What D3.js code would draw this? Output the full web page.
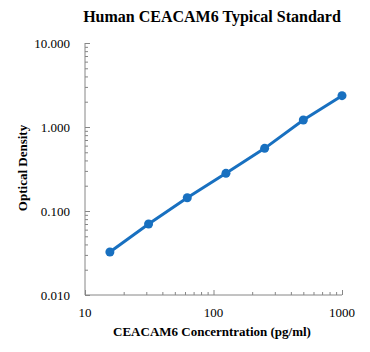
<!DOCTYPE html>
<html><head><meta charset="utf-8">
<script src="https://cdn.jsdelivr.net/npm/d3@7"></script>
<style>body{margin:0;background:#fff}svg{display:block}</style>
</head><body>
<script>
const concentrations = [15.625, 31.25, 62.5, 125, 250, 500, 1000];
const odValues = [0.0325, 0.070, 0.144, 0.281, 0.557, 1.21, 2.36];
const xTickValues = [10, 100, 1000];
const xTickLabels = ["10", "100", "1000"];
const yTickValues = [0.01, 0.1, 1, 10];
const yTickLabels = ["0.010", "0.100", "1.000", "10.000"];
const title = "Human CEACAM6 Typical Standard";
const xTitle = "CEACAM6 Concerntration (pg/ml)";
const yTitle = "Optical Density";

const W = 370, H = 352;
const svg = d3.select("body").append("svg").attr("width", W).attr("height", H);
const x = d3.scaleLog().domain([10, 1000]).range([85, 342]);
const y = d3.scaleLog().domain([0.01, 10]).range([295, 43]);
const axisColor = "#868686";
const font = "'Liberation Serif','Times New Roman',serif";

function minors(dom) {
  const out = [];
  for (let d = dom[0]; d < dom[1]; d *= 10)
    for (let k = 2; k <= 9; k++) out.push(d * k);
  return out;
}

// y axis
const yAxis = svg.append("g").attr("transform", "translate(85,0)");
yAxis.call(d3.axisRight(y).tickValues(yTickValues).tickSize(5).tickFormat(""));
yAxis.append("g").call(d3.axisRight(y).tickValues(minors([0.01, 10])).tickSize(3).tickFormat(""));
yAxis.selectAll("path.domain").attr("stroke", axisColor).attr("d", `M0,${y(10)}V${y(0.01)}`);
yAxis.selectAll("line").attr("stroke", axisColor);
yAxis.selectAll("g g path.domain").remove();

// x axis
const xAxis = svg.append("g").attr("transform", "translate(0,295)");
xAxis.call(d3.axisTop(x).tickValues(xTickValues).tickSize(5).tickFormat(""));
xAxis.append("g").call(d3.axisTop(x).tickValues(minors([10, 1000])).tickSize(3).tickFormat(""));
xAxis.selectAll("path.domain").attr("stroke", axisColor).attr("d", `M${x(10)},0H${x(1000)}`);
xAxis.selectAll("line").attr("stroke", axisColor);
xAxis.selectAll("g g path.domain").remove();

// tick labels
svg.append("g").selectAll("text").data(yTickValues).join("text")
  .attr("x", 70).attr("y", d => y(d)).attr("dy", "0.35em")
  .attr("text-anchor", "end").attr("font-family", font).attr("font-size", 13)
  .text((d, i) => yTickLabels[i]);
svg.append("g").selectAll("text").data(xTickValues).join("text")
  .attr("x", d => x(d)).attr("y", 312).attr("dy", "0.35em")
  .attr("text-anchor", "middle").attr("font-family", font).attr("font-size", 13)
  .text((d, i) => xTickLabels[i]);

// titles
svg.append("text").attr("x", 212).attr("y", 16).attr("dy", "0.35em")
  .attr("text-anchor", "middle").attr("font-family", font).attr("font-size", 16)
  .attr("font-weight", "bold").text(title);
svg.append("text").attr("x", 212).attr("y", 331).attr("dy", "0.35em")
  .attr("text-anchor", "middle").attr("font-family", font).attr("font-size", 13)
  .attr("font-weight", "bold").text(xTitle);
svg.append("text").attr("transform", "translate(22,168) rotate(-90)").attr("dy", "0.35em")
  .attr("text-anchor", "middle").attr("font-family", font).attr("font-size", 13)
  .attr("font-weight", "bold").text(yTitle);

// series
const color = "#1870c0";
const pts = concentrations.map((c, i) => [c, odValues[i]]);
svg.append("path").datum(pts)
  .attr("d", d3.line().x(d => x(d[0])).y(d => y(d[1])))
  .attr("fill", "none").attr("stroke", color).attr("stroke-width", 3);
svg.append("g").selectAll("circle").data(pts).join("circle")
  .attr("cx", d => x(d[0])).attr("cy", d => y(d[1])).attr("r", 4.5).attr("fill", color);
</script>
</body></html>
